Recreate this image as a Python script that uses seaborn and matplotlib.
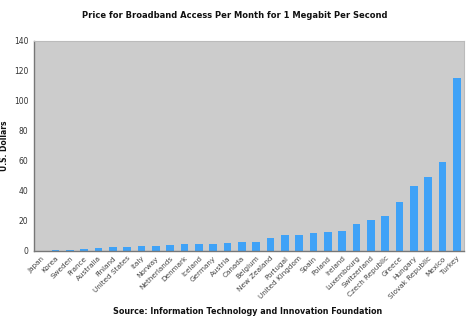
import matplotlib
matplotlib.use("Agg")
import matplotlib.pyplot as plt
import seaborn as sns
import pandas as pd

countries = ["Japan", "Korea", "Sweden", "France", "Australia", "Finland",
             "United States", "Italy", "Norway", "Netherlands", "Denmark",
             "Iceland", "Germany", "Austria", "Canada", "Belgium",
             "New Zealand", "Portugal", "United Kingdom", "Spain", "Poland",
             "Ireland", "Luxembourg", "Switzerland", "Czech Republic",
             "Greece", "Hungary", "Slovak Republic", "Mexico", "Turkey"]
prices = [0.13, 0.37, 0.4, 1.3, 2.0, 2.4, 2.9, 3.1, 3.6, 3.8, 4.5,
          4.9, 4.9, 5.5, 6.2, 6.3, 9.0, 10.5, 10.7, 12.1, 12.4,
          13.2, 18.0, 21.0, 23.5, 32.4, 43.5, 49.5, 59.5, 115.5]
yticks = [0, 20, 40, 60, 80, 100, 120, 140]

df = pd.DataFrame({"country": countries, "price": prices})

sns.set_theme(style="white")
plt.rcParams['font.family'] = ['DejaVu Sans']

fig = plt.figure(figsize=(4.7, 3.28), dpi=100)
ax = fig.add_axes([34/470, 77/328, 430/470, 210/328])
ax.set_facecolor("#cccccc")

sns.barplot(data=df, x="country", y="price", color="#3fa2f7", width=0.55,
            saturation=1, ax=ax, edgecolor="none")

ax.set_ylim(0, 140)
ax.set_xlim(-0.5, len(countries) - 0.5)
ax.set_yticks(yticks)
ax.set_yticklabels([str(t) for t in yticks], fontsize=5.5, color="#333333")
ax.set_xticks(range(len(countries)))
ax.set_xticklabels(countries, rotation=45, ha="right", rotation_mode="anchor",
                   fontsize=5.2, color="#444444")
ax.tick_params(axis="both", length=2, width=0.6, color="#888888", pad=2)
ax.tick_params(axis="x", length=0, pad=3)
ax.set_xlabel("")
ax.set_ylabel("U.S. Dollars", fontsize=5.5, fontweight="bold", color="#111111")
ax.yaxis.set_label_coords(-0.058, 0.5)

for side in ["left", "bottom"]:
    ax.spines[side].set_color("#777777")
    ax.spines[side].set_linewidth(1.0)
for side in ["top", "right"]:
    ax.spines[side].set_color("#bbbbbb")
    ax.spines[side].set_linewidth(0.8)

fig.text(0.5, 1 - 15/328, "Price for Broadband Access Per Month for 1 Megabit Per Second",
         ha="center", va="center", fontsize=6, fontweight="bold", color="#111111")
fig.text(248/470, 1 - 311/328, "Source: Information Technology and Innovation Foundation",
         ha="center", va="center", fontsize=5.8, fontweight="bold", color="#111111")

fig.savefig("out.png", dpi=100)
